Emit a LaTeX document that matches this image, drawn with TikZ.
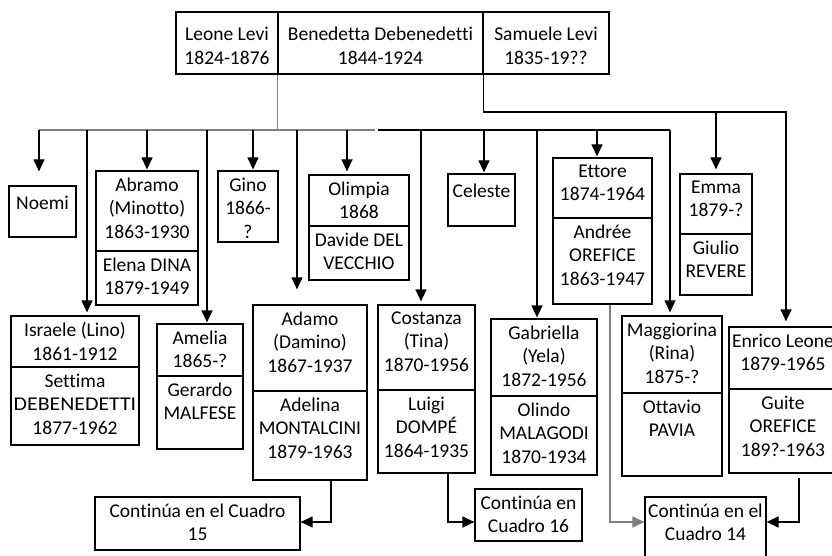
\documentclass[tikz,border=0pt]{standalone}
\usepackage{fontspec}
\setmainfont{Carlito}[Ligatures=CommonOff]
\usetikzlibrary{arrows.meta,fit}

\definecolor{linegray}{HTML}{808080}

% one framed cell of the family chart, with its text set at the top
\newcommand\famcell[7][celltext]{%
  \node[cellframe, fit={(#3,#4) (#5,#6)}] (#2) {};
  \node[#1] (#2-t) at (#2.north) {#7};
}

\tikzset{
  cellframe/.style={draw, line width=1.2pt, inner sep=0pt},
  celltext/.style={anchor=north, align=center, inner sep=0pt, yshift=-7pt,
    font=\fontsize{19.5}{23.5}\selectfont, execute at begin node=\strut},
  parenttext/.style={celltext, yshift=-8.5pt},
  link/.style={line width=1.2pt, draw=black},
  graylink/.style={line width=1.1pt, draw=linegray},
  tip/.style={-{Triangle[length=12pt,width=11pt]}},
}

\begin{document}
\begin{tikzpicture}[x=1pt, y=-1pt]
\useasboundingbox (0,0) rectangle (832,556);
\clip (0,0) rectangle (832,556);

% parents
\famcell[parenttext]{leone}{176}{12}{278}{74}{Leone Levi\\1824-1876}
\famcell[parenttext]{bene}{278}{12}{483}{74}{Benedetta Debenedetti\\1844-1924}
\famcell[parenttext]{samuele}{483}{12}{609}{74}{Samuele Levi\\1835-19??}

% first row of children
\famcell{noemi}{9}{186}{76}{237}{Noemi}
\famcell{abramo}{96}{171}{198}{251}{Abramo\\(Minotto)\\1863-1930}
\famcell{abramoS}{96}{251}{198}{305}{Elena DINA\\1879-1949}
\famcell{gino}{218}{171}{278}{242}{Gino\\1866-\\?}
\famcell{olimpia}{309}{175}{409}{226}{Olimpia\\1868}
\famcell{olimpiaS}{309}{226}{409}{280}{Davide DEL\\VECCHIO}
\famcell{celeste}{448}{174}{515}{226}{Celeste}
\famcell{ettore}{553}{158}{652}{218}{Ettore\\1874-1964}
\famcell{ettoreS}{553}{218}{652}{304}{Andrée\\OREFICE\\1863-1947}
\famcell{emma}{680}{174}{752}{234}{Emma\\1879-?}
\famcell{emmaS}{680}{234}{752}{295}{Giulio\\REVERE}

% second row of children
\famcell{israele}{11}{316}{139}{367}{Israele (Lino)\\1861-1912}
\famcell{israeleS}{11}{367}{139}{445}{Settima\\\scalebox{1.12}[1]{DEBENEDETTI}\\1877-1962}
\famcell{amelia}{157}{324}{243}{376}{Amelia\\1865-?}
\famcell{ameliaS}{157}{376}{243}{449}{Gerardo\\MALFESE}
\famcell{adamo}{253}{305}{367}{391}{Adamo\\(Damino)\\1867-1937}
\famcell{adamoS}{253}{391}{367}{480}{Adelina\\MONTALCINI\\1879-1963}
\famcell{costanza}{378}{305}{475}{390}{Costanza\\(Tina)\\1870-1956}
\famcell{costanzaS}{378}{390}{475}{473}{Luigi\\DOMPÉ\\1864-1935}
\famcell{gabriella}{491}{319}{597}{396}{Gabriella\\(Yela)\\1872-1956}
\famcell{gabriellaS}{491}{396}{597}{475}{Olindo\\MALAGODI\\1870-1934}
\famcell{maggiorina}{622}{316}{722}{393}{Maggiorina\\(Rina)\\1875-?}
\famcell{maggiorinaS}{622}{393}{722}{476}{Ottavio\\PAVIA}
\famcell{enrico}{729}{327}{837}{389}{Enrico Leone\\1879-1965}
\famcell{enricoS}{729}{389}{837}{473}{Guite\\OREFICE\\189?-1963}

% references to other charts
\famcell{c15}{95}{497}{300}{550}{Continúa en el Cuadro\\15}
\famcell{c16}{475}{489}{582}{541}{Continúa en\\Cuadro 16}
\famcell{c14}{645}{497}{766}{590}{Continúa en el\\Cuadro 14}

% drop points on the children's bus
\coordinate (busL) at (39,130);
\coordinate (busGapL) at (375,130);
\coordinate (busGapR) at (378,130);
\coordinate (busR) at (670,130);
\coordinate (dIsraele) at (87,130);
\coordinate (dAbramo) at (147,130);
\coordinate (dAmelia) at (207,130);
\coordinate (dGino) at (253,130);
\coordinate (dAdamo) at (297,130);
\coordinate (dOlimpia) at (347,130);
\coordinate (dCostanza) at (421,130);
\coordinate (dCeleste) at (484,130);
\coordinate (dGabriella) at (537,130);
\coordinate (dEttore) at (597,130);
\coordinate (secondR) at (786,112);
\coordinate (dEmma) at (716,112);
\coordinate (lowrow) at (0,522);

% bus from the first marriage
\draw[graylink] (bene.south west) |- (busL);
\draw[graylink] (bene.south west |- busL) -- (busGapL);
\draw[link] (busGapR) -- (busR);

\draw[link,tip,shorten >=14pt] (busL) -- (busL |- noemi.north);
\draw[link,tip,shorten >=3pt] (dIsraele) -- (dIsraele |- israele.north);
\draw[link,tip,shorten >=1pt] (dAbramo) -- (dAbramo |- abramo.north);
\draw[link,tip,shorten >=1pt] (dAmelia) -- (dAmelia |- amelia.north);
\draw[link,tip,shorten >=1pt] (dGino) -- (dGino |- gino.north);
\draw[link,tip,shorten >=15pt] (dAdamo) -- (dAdamo |- adamo.north);
\draw[link,tip,shorten >=3pt] (dOlimpia) -- (dOlimpia |- olimpia.north);
\draw[link,tip,shorten >=3pt] (dCostanza) -- (dCostanza |- costanza.north);
\draw[link,tip,shorten >=1pt] (dCeleste) -- (dCeleste |- celeste.north);
\draw[link,tip,shorten >=1pt] (dGabriella) -- (dGabriella |- gabriella.north);
\draw[link,tip,shorten >=1pt] (dEttore) -- (dEttore |- ettore.north);
\draw[link,tip,shorten >=3pt] (busR) -- (busR |- maggiorina.north);

% bus from the second marriage
\draw[link,tip,shorten >=5pt] (bene.south east) |- (secondR) -- (secondR |- enrico.north);
\draw[link,tip,shorten >=4pt] (dEmma) -- (dEmma |- emma.north);

% continuations
\draw[link,tip] ([xshift=21pt]adamoS.south) |- (c15.east |- lowrow);
\draw[link,tip] ([xshift=21.5pt]costanzaS.south) |- (c16.west |- lowrow);
\draw[graylink,tip] ([xshift=7.5pt]ettoreS.south) |- (c14.west |- lowrow);
\draw[link,tip] ([xshift=16pt,yshift=-4pt]enricoS.south) |- (c14.east |- lowrow);
\end{tikzpicture}
\end{document}
